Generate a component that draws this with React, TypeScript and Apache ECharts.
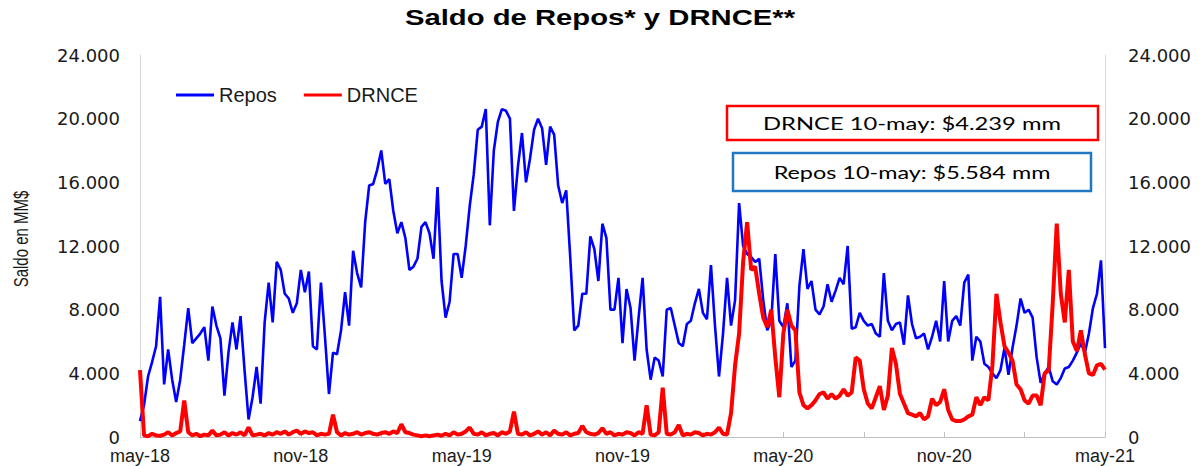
import React, { useEffect, useRef } from "react";
import * as echarts from "echarts";

const chartTitle = "Saldo de Repos* y DRNCE**";
const yAxisName = "Saldo en MM$";
const drnceNote = "DRNCE 10-may: $4.239 mm";
const reposNote = "Repos 10-may: $5.584 mm";
const seriesNames = ["Repos", "DRNCE"];
const xTickLabels = ["may-18", "nov-18", "may-19", "nov-19", "may-20", "nov-20", "may-21"];
const pointsPerHalfYear = 40;
const yMin = 0;
const yMax = 24000;
const yStep = 4000;

// Saldo de Repos (MM$), ~4.5-day steps from may-18 to 10-may-21
const repos = [
  1000, 2000, 3800, 4700, 5700, 8800, 3300, 5500, 3600, 2200,
  3600, 5800, 8100, 5900, 6200, 6500, 6900, 4800, 8200, 7000,
  6200, 2600, 5300, 7200, 5500, 7600, 4200, 1100, 2500, 4400,
  2100, 7200, 9700, 7200, 11000, 10500, 9000, 8700, 7800, 8400,
  10500, 9100, 10400, 5700, 5500, 9700, 6300, 2700, 5300, 5200,
  6700, 9100, 7000, 11700, 10300, 9400, 13500, 15800, 15900, 16800,
  18000, 15900, 16200, 14200, 12800, 13500, 12500, 10500, 10700, 11200,
  13200, 13500, 12800, 11200, 15700, 9800, 7500, 8500, 11500, 11500,
  10000, 12000, 14500, 16500, 19300, 19500, 20600, 13300, 18000, 19800,
  20600, 20500, 20000, 14200, 17000, 19100, 16000, 17500, 19300, 20000,
  19400, 17100, 19500, 19000, 15800, 14700, 15500, 11300, 6700, 7000,
  9000, 9000, 12600, 11800, 9800, 13400, 12500, 8000, 8000, 10000,
  5900, 9300, 8100, 4800, 7500, 10000, 5500, 3600, 5000, 4800,
  3800, 8000, 8100, 7000, 5900, 5700, 7100, 7300, 8400, 9300,
  7800, 7400, 10800, 7000, 3800, 6500, 10000, 7000, 8600, 14700,
  12000, 11500, 11300, 11000, 11200, 8600, 6700, 7300, 11500, 7300,
  6900, 8400, 4400, 4800, 9500, 11800, 9300, 9800, 8000, 7700,
  8200, 9600, 8500, 9200, 10000, 9600, 12000, 6800, 6900, 7800,
  7300, 7000, 7100, 6500, 6300, 10300, 7300, 6700, 7100, 7200,
  5800, 8900, 7100, 6200, 6300, 6500, 5500, 6300, 7300, 6000,
  9800, 6000, 7300, 7600, 7000, 9700, 10200, 4800, 6300, 6000,
  4600, 4400, 4000, 3700, 4200, 5600, 3900, 5600, 7000, 8700,
  7800, 8000, 7500, 5000, 3400, 4000, 4400, 3500, 3300, 3700,
  4300, 4400, 4800, 5300, 5900, 5300, 6500, 8100, 9000, 11100,
  5584,
];

// Saldo DRNCE (MM$), same dates
const drnce = [
  4200, 100, 50, 200, 100, 80, 150, 300, 100, 250,
  350, 2300, 300, 100, 200, 50, 150, 100, 400, 100,
  150, 300, 100, 250, 150, 300, 100, 600, 100, 150,
  200, 100, 250, 150, 300, 200, 350, 150, 300, 400,
  200, 350, 250, 300, 100, 200, 150, 200, 1400, 300,
  100, 250, 150, 200, 300, 150, 250, 300, 200, 150,
  250, 300, 200, 350, 250, 800, 300, 250, 150, 100,
  50, 100, 50, 100, 150, 80, 200, 100, 300, 150,
  200, 350, 600, 200, 150, 300, 100, 200, 250, 100,
  300, 200, 350, 1600, 200, 150, 300, 100, 200, 350,
  150, 300, 100, 400, 200, 150, 300, 100, 200, 250,
  700, 300, 200, 150, 250, 550, 200, 300, 100, 200,
  150, 300, 250, 100, 300, 200, 2000, 150, 100, 300,
  3100, 200, 150, 300, 750, 100, 200, 150, 300, 250,
  100, 200, 150, 300, 600, 200, 150, 1500, 4500, 6500,
  11000, 13500, 10500, 10700, 9000, 7500, 6900, 8000, 5000, 2500,
  6500, 8000, 7000, 6700, 2800, 2000, 1800, 2000, 2300, 2700,
  2800, 2400, 2700, 2400, 2600, 3000, 2600, 2800, 5000, 4800,
  3000, 2100, 1800, 2500, 3200, 1700, 2600, 5600, 4600, 2700,
  2100, 1500, 1400, 1300, 1500, 1100, 1300, 2400, 2000, 2200,
  3000, 1700, 1100, 1000, 1000, 1100, 1300, 1400, 2500, 2000,
  2500, 2300, 4500, 9000, 7200, 5700, 5300, 4800, 3300, 3000,
  2300, 2100, 2600, 2600, 2000, 4000, 4200, 8400, 13400, 9000,
  7200, 10500, 6000, 5400, 6700, 5200, 4000, 3900, 4500, 4600,
  4239,
];

const startUTC = Date.UTC(2018, 4, 10);
const endUTC = Date.UTC(2021, 4, 10);
const categories = repos.map((_, i) =>
  new Date(startUTC + ((endUTC - startUTC) * i) / (repos.length - 1)).toISOString().slice(0, 10)
);

const fmtThousands = (v: number) =>
  v === 0 ? "0" : `${Math.floor(v / 1000)}.${String(v % 1000).padStart(3, "0")}`;

export default function App() {
  const ref = useRef<HTMLDivElement>(null);

  useEffect(() => {
    if (!ref.current) return;
    const chart = echarts.init(ref.current, undefined, { renderer: "svg" });
    const axisLabelStyle = {
      fontFamily: '"DejaVu Sans", sans-serif',
      fontSize: 18,
      color: "#1a1a1a",
    };
    const centered = {
      textAlign: "center",
      align: "center",
      textVerticalAlign: "middle",
      verticalAlign: "middle",
    };
    chart.setOption({
      animation: false,
      backgroundColor: "#ffffff",
      grid: { left: 140, right: 96, top: 55, bottom: 29, containLabel: false },
      legend: {
        data: [
          { name: seriesNames[0], icon: "rect", itemStyle: { color: "#0000ff" } },
          { name: seriesNames[1], icon: "rect", itemStyle: { color: "#ff0000" } },
        ],
        left: 171,
        top: 80,
        itemWidth: 38,
        itemHeight: 3,
        itemGap: 27,
        textStyle: { fontFamily: '"Liberation Sans", Arial, sans-serif', fontSize: 20, color: "#1a1a1a" },
      },
      xAxis: {
        type: "category",
        data: categories,
        boundaryGap: false,
        axisLine: { show: true, lineStyle: { color: "#bfbfbf", width: 1 } },
        axisTick: {
          show: true,
          inside: true,
          length: 5,
          interval: (i: number) => i % (pointsPerHalfYear / 2) === 0,
          lineStyle: { color: "#bfbfbf" },
        },
        axisLabel: {
          interval: (i: number) => i % pointsPerHalfYear === 0,
          formatter: (_v: string, i: number) => xTickLabels[Math.round(i / pointsPerHalfYear)] ?? "",
          fontFamily: '"Liberation Sans", Arial, sans-serif',
          fontSize: 18,
          color: "#1a1a1a",
          margin: 10,
        },
        splitLine: { show: false },
      },
      yAxis: [
        {
          type: "value",
          min: yMin,
          max: yMax,
          interval: yStep,
          axisLine: { show: true, lineStyle: { color: "#d9d9d9" } },
          axisTick: { show: false },
          splitLine: { show: false },
          axisLabel: { ...axisLabelStyle, formatter: fmtThousands, margin: 20 },
        },
        {
          type: "value",
          position: "right",
          min: yMin,
          max: yMax,
          interval: yStep,
          axisLine: { show: true, lineStyle: { color: "#d9d9d9" } },
          axisTick: { show: false },
          splitLine: { show: false },
          axisLabel: { ...axisLabelStyle, formatter: fmtThousands, margin: 23 },
        },
      ],
      series: [
        {
          name: seriesNames[0],
          type: "line",
          data: repos,
          symbol: "none",
          showSymbol: false,
          lineStyle: { color: "#0000ff", width: 2.6 },
          itemStyle: { color: "#0000ff" },
          z: 2,
        },
        {
          name: seriesNames[1],
          type: "line",
          data: drnce,
          symbol: "none",
          showSymbol: false,
          lineStyle: { color: "#ff0000", width: 4 },
          itemStyle: { color: "#ff0000" },
          z: 3,
        },
      ],
      graphic: [
        {
          type: "text",
          x: 600,
          y: 17,
          scaleX: 1.33,
          style: {
            text: chartTitle,
            font: 'bold 22px "Liberation Sans", Arial, sans-serif',
            fill: "#000000",
            ...centered,
          },
        },
        {
          type: "text",
          x: 21,
          y: 239,
          rotation: Math.PI / 2,
          scaleY: 1.3,
          style: {
            text: yAxisName,
            font: '15px "Liberation Sans", Arial, sans-serif',
            fill: "#1a1a1a",
            ...centered,
          },
        },
        {
          type: "rect",
          shape: { x: 727, y: 106, width: 371, height: 34 },
          style: { fill: "#ffffff", stroke: "#ff0000", lineWidth: 2.5 },
          z: 10,
        },
        {
          type: "text",
          x: 912,
          y: 123,
          scaleX: 1.32,
          z: 11,
          style: {
            text: drnceNote,
            font: '18px Lato, "Open Sans", sans-serif',
            fill: "#000000",
            ...centered,
          },
        },
        {
          type: "rect",
          shape: { x: 733, y: 153, width: 358, height: 38 },
          style: { fill: "#ffffff", stroke: "#2277c4", lineWidth: 2.5 },
          z: 10,
        },
        {
          type: "text",
          x: 912,
          y: 172,
          scaleX: 1.3,
          z: 11,
          style: {
            text: reposNote,
            font: '18px Lato, "Open Sans", sans-serif',
            fill: "#000000",
            ...centered,
          },
        },
      ],
    });
    return () => chart.dispose();
  }, []);

  return (
    <div
      ref={ref}
      style={{ position: "fixed", left: 0, top: 0, width: 1201, height: 466, background: "#fff" }}
    />
  );
}
